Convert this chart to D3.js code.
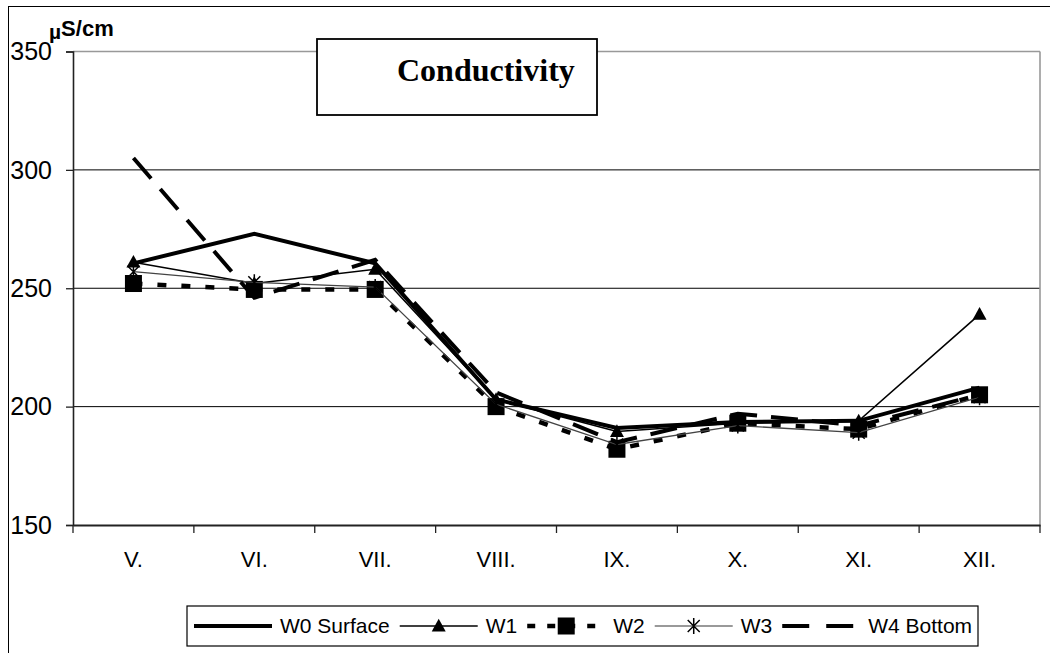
<!DOCTYPE html>
<html><head><meta charset="utf-8">
<script src="https://cdn.jsdelivr.net/npm/d3@7"></script>
<style>body{margin:0;background:#fff} svg{display:block}</style>
</head><body>
<svg id="c" width="1050" height="653"></svg>
<script>
// ---- data ----
const categories = ["V.","VI.","VII.","VIII.","IX.","X.","XI.","XII."];
const yTicks = [150,200,250,300,350];
const seriesNames = ["W0 Surface","W1","W2","W3","W4 Bottom"];
const w0 = [260.5,273,260.5,203,191,193.5,194,208];
const w1 = [261,252,258,203,189.5,193,194,239];
const w2 = [252,249.5,249.5,200,182,193,190.5,205];
const w3 = [257,252.5,250.5,201,184,192,189,204];
const w4 = [305,246,262,206,185,197,192,205];
const titleText = "Conductivity";
const unitText = "S/cm";

// ---- styles ----
const styles = [
  {stroke:"#000", width:4,   dash:null,    marker:null},
  {stroke:"#000", width:1.6, dash:null,    marker:"tri"},
  {stroke:"#000", width:4.5, dash:"9,15",  marker:"sq"},
  {stroke:"#444", width:1.3, dash:null,    marker:"star"},
  {stroke:"#000", width:4,   dash:"27,14", marker:null}
];
const allSeries = [w0,w1,w2,w3,w4];

const svg = d3.select("#c");
const L = 73, R = 1040, T = 51.5, B = 525;
const x = d3.scaleBand().domain(categories).range([L,R]).padding(0);
const y = d3.scaleLinear().domain([150,350]).range([B,T]);
const cx = c => x(c) + x.bandwidth()/2;

// outer border
svg.append("rect").attr("x",8.5).attr("y",6.5).attr("width",1100).attr("height",700)
  .attr("fill","#fff").attr("stroke","#000").attr("stroke-width",1);

// gridlines
svg.append("g").selectAll("line").data(yTicks.filter(t=>t>150)).join("line")
  .attr("x1",L).attr("x2",R).attr("y1",d=>y(d)).attr("y2",d=>y(d))
  .attr("stroke",d=>d===350?"#999":"#000").attr("stroke-width",d=>d===350?1.6:1);
// right plot border
svg.append("line").attr("x1",R).attr("x2",R).attr("y1",T).attr("y2",B)
  .attr("stroke","#999").attr("stroke-width",1.6);

// y axis
const yAxis = d3.axisLeft(y).tickValues(yTicks).tickSize(7).tickPadding(14);
const gy = svg.append("g").attr("transform",`translate(${L},0)`).call(yAxis);
gy.select(".domain").attr("stroke","#222").attr("stroke-width",1.6);
gy.selectAll(".tick line").attr("stroke","#222").attr("stroke-width",1.3);
gy.selectAll(".tick text").attr("font-family","'Liberation Sans', Arial, sans-serif")
  .attr("font-size",25).attr("fill","#000").attr("dy","0.33em");

// x axis
const xAxis = d3.axisBottom(x).tickSize(0).tickPadding(0);
const gx = svg.append("g").attr("transform",`translate(0,${B})`).call(xAxis);
gx.select(".domain").attr("stroke","#222").attr("stroke-width",2);
gx.selectAll(".tick text").attr("font-family","'Liberation Sans', Arial, sans-serif")
  .attr("font-size",22).attr("fill","#000").attr("y",42).attr("dy",0);
// boundary ticks
const bounds = categories.map(c=>x(c)).concat([R]);
svg.append("g").selectAll("line").data(bounds).join("line")
  .attr("x1",d=>d).attr("x2",d=>d).attr("y1",B).attr("y2",B+8)
  .attr("stroke","#222").attr("stroke-width",1.3);

// unit label
const ut = svg.append("text").attr("x",49).attr("y",36)
  .attr("font-family","'Liberation Sans', Arial, sans-serif").attr("font-weight","bold")
  .attr("font-size",22).attr("fill","#000");
ut.append("tspan").attr("font-size",21).attr("dy",3).text("\u00B5");
ut.append("tspan").attr("dy",-3).text(unitText);

// marker drawing
function drawMarker(g, type, px, py, scale=1){
  if(type==="tri"){
    const w=7*scale, h=12*scale;
    g.append("path").attr("d",`M${px},${py-h*0.6}L${px+w},${py+h*0.45}L${px-w},${py+h*0.45}Z`).attr("fill","#000");
  } else if(type==="sq"){
    const s=8.5*scale;
    g.append("rect").attr("x",px-s).attr("y",py-s).attr("width",2*s).attr("height",2*s).attr("fill","#000");
  } else if(type==="star"){
    const s=8*scale, d=s*0.75;
    g.append("path").attr("d",`M${px},${py-s}L${px},${py+s}M${px-d},${py-d}L${px+d},${py+d}M${px-d},${py+d}L${px+d},${py-d}`)
      .attr("stroke","#000").attr("stroke-width",1.5).attr("fill","none");
  }
}

// series
const line = d3.line().x((d,i)=>cx(categories[i])).y(d=>y(d));
const plot = svg.append("g");
allSeries.forEach((s,k)=>{
  const st = styles[k];
  plot.append("path").datum(s).attr("d",line).attr("fill","none")
    .attr("stroke",st.stroke).attr("stroke-width",st.width)
    .attr("stroke-dasharray",st.dash).attr("stroke-linejoin","miter").attr("stroke-linecap","butt");
  if(st.marker){
    s.forEach((v,i)=>drawMarker(plot, st.marker, cx(categories[i]), y(v)));
  }
});

// title box
svg.append("rect").attr("x",317).attr("y",39).attr("width",280).attr("height",76)
  .attr("fill","#fff").attr("stroke","#000").attr("stroke-width",1.8);
svg.append("text").attr("x",397).attr("y",81)
  .attr("font-family","'Liberation Serif', 'Times New Roman', serif").attr("font-weight","bold")
  .attr("font-size",32).attr("fill","#000").text(titleText);

// legend
const lg = svg.append("g");
lg.append("rect").attr("x",187).attr("y",606).attr("width",791).attr("height",40)
  .attr("fill","#fff").attr("stroke","#000").attr("stroke-width",1.2);
let lx = 194; const ly = 626, sampleLen = 78;
seriesNames.forEach((name,k)=>{
  const st = styles[k];
  lg.append("line").attr("x1",lx).attr("x2",lx+sampleLen).attr("y1",ly).attr("y2",ly)
    .attr("stroke",k===3?"#777":st.stroke).attr("stroke-width",st.width)
    .attr("stroke-dasharray",k===2?"8,12":(k===4?"27,17":st.dash));
  if(st.marker) drawMarker(lg, st.marker, lx+sampleLen/2, ly);
  const t = lg.append("text").attr("x",lx+sampleLen+8).attr("y",ly+7)
    .attr("font-family","'Liberation Sans', Arial, sans-serif").attr("font-size",21).attr("fill","#000").text(name);
  lx = lx + sampleLen + 8 + t.node().getComputedTextLength() + 10;
});
</script>
</body></html>
